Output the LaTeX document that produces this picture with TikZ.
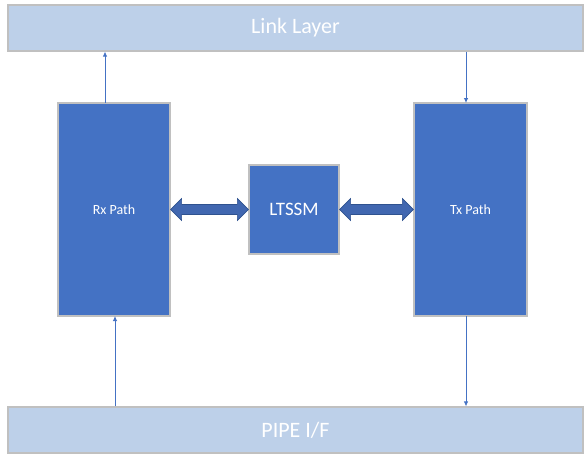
\documentclass[tikz,border=0pt]{standalone}
\usepackage{fontspec}
\setmainfont{Carlito}
\usetikzlibrary{arrows.meta,calc}
\definecolor{boxblue}{HTML}{4472C4}
\definecolor{barblue}{HTML}{BDD0E9}
\definecolor{edgegrey}{HTML}{C0C0C0}
\definecolor{dblfill}{HTML}{4167B0}
\definecolor{dbledge}{HTML}{2F528F}
\tikzset{
  bar/.style={draw=edgegrey, line width=1.2pt, fill=barblue, text=white, minimum width=575pt, minimum height=46pt, inner sep=0pt, font=\fontsize{22}{26}\selectfont},
  block/.style={draw=edgegrey, line width=1.2pt, fill=boxblue, text=white, inner sep=0pt},
  thin/.style={draw=boxblue, line width=0.8pt, -{Latex[length=5pt,width=4.5pt]}},
  dbl/.style={fill=dblfill, draw=dbledge, line width=0.6pt, line join=miter}
}
\begin{document}
\begin{tikzpicture}[x=1pt,y=-1pt]
\useasboundingbox (0,0) rectangle (585,459);
\node[bar] (link) at (295.5,28) {Link Layer};
\node[bar] (pipe) at (295.5,430) {PIPE I/F};
\node[block, minimum width=112pt, minimum height=213pt, font=\fontsize{14}{16}\selectfont] (rx) at (114,209.5) {Rx Path};
\node[block, minimum width=113pt, minimum height=213pt, font=\fontsize{14}{16}\selectfont] (tx) at (470.5,209.5) {Tx Path};
\node[block, minimum width=90pt, minimum height=89pt, font=\fontsize{19}{22}\selectfont] (lt) at (294,209.5) {LTSSM};
% thin arrows
\coordinate (rxtop) at (105,103);
\coordinate (rxbot) at (115,316);
\coordinate (txtop) at (466,103);
\coordinate (txbot) at (466,316);
\draw[thin] (rxtop) -- (rxtop |- link.south);
\draw[thin] (rxbot |- pipe.north) -- (rxbot);
\draw[thin] (txtop |- link.south) -- (txtop);
\draw[thin] (txbot) -- (txbot |- pipe.north);
% double arrows
\draw[dbl] (rx.east) -- ++(11,-11) -- ++(0,6) -- ($(lt.west)+(-11,-5)$) -- ++(0,-6) -- (lt.west) -- ++(-11,11) -- ++(0,-6) -- ($(rx.east)+(11,5)$) -- ++(0,6) -- cycle;
\draw[dbl] (lt.east) -- ++(11,-11) -- ++(0,6) -- ($(tx.west)+(-11,-5)$) -- ++(0,-6) -- (tx.west) -- ++(-11,11) -- ++(0,-6) -- ($(lt.east)+(11,5)$) -- ++(0,6) -- cycle;
\end{tikzpicture}
\end{document}
